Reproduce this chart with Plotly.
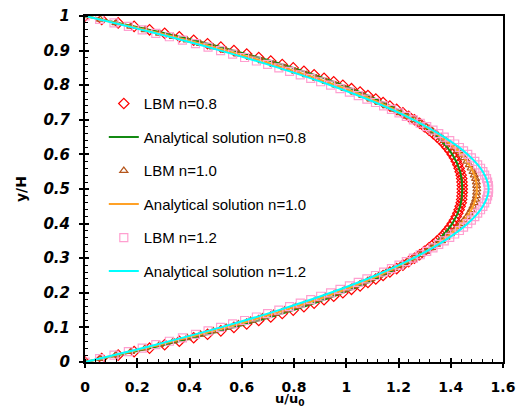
import plotly.graph_objects as go

# y/H positions of LBM nodes (0 .. 1, step 0.01)
y_lbm = [round(i * 0.01, 2) for i in range(101)]

u_lbm_08 = [0, 0.064, 0.127, 0.188, 0.247, 0.305, 0.361, 0.416, 0.469, 0.520, 0.570, 0.619, 0.665, 0.711, 0.755,
            0.797, 0.838, 0.877, 0.915, 0.952, 0.987, 1.020, 1.053, 1.083, 1.113, 1.141, 1.167, 1.193, 1.217, 1.239,
            1.261, 1.281, 1.299, 1.317, 1.333, 1.348, 1.362, 1.375, 1.386, 1.397, 1.406, 1.414, 1.421, 1.427, 1.432,
            1.436, 1.440, 1.442, 1.443, 1.444, 1.444,
            1.444, 1.443, 1.442, 1.440, 1.436, 1.432, 1.427, 1.421, 1.414, 1.406, 1.397, 1.386, 1.375, 1.362, 1.348,
            1.333, 1.317, 1.299, 1.281, 1.261, 1.239, 1.217, 1.193, 1.167, 1.141, 1.113, 1.083, 1.053, 1.020, 0.987,
            0.952, 0.915, 0.877, 0.838, 0.797, 0.755, 0.711, 0.665, 0.619, 0.570, 0.520, 0.469, 0.416, 0.361, 0.305,
            0.247, 0.188, 0.127, 0.064, 0]

u_lbm_10 = [0, 0.059, 0.118, 0.175, 0.230, 0.285, 0.338, 0.391, 0.442, 0.491, 0.540, 0.587, 0.634, 0.679, 0.722,
            0.765, 0.806, 0.847, 0.886, 0.923, 0.960, 0.995, 1.030, 1.063, 1.094, 1.125, 1.154, 1.183, 1.210, 1.235,
            1.260, 1.283, 1.306, 1.327, 1.346, 1.365, 1.382, 1.399, 1.414, 1.427, 1.440, 1.451, 1.462, 1.471, 1.478,
            1.485, 1.490, 1.495, 1.498, 1.499, 1.500,
            1.499, 1.498, 1.495, 1.490, 1.485, 1.478, 1.471, 1.462, 1.451, 1.440, 1.427, 1.414, 1.399, 1.382, 1.365,
            1.346, 1.327, 1.306, 1.283, 1.260, 1.235, 1.210, 1.183, 1.154, 1.125, 1.094, 1.063, 1.030, 0.995, 0.960,
            0.923, 0.886, 0.847, 0.806, 0.765, 0.722, 0.679, 0.634, 0.587, 0.540, 0.491, 0.442, 0.391, 0.338, 0.285,
            0.230, 0.175, 0.118, 0.059, 0]

u_lbm_12 = [0, 0.056, 0.111, 0.166, 0.219, 0.271, 0.323, 0.373, 0.423, 0.471, 0.519, 0.565, 0.611, 0.656, 0.699,
            0.742, 0.783, 0.824, 0.864, 0.902, 0.940, 0.976, 1.012, 1.046, 1.079, 1.112, 1.143, 1.173, 1.202, 1.230,
            1.257, 1.283, 1.308, 1.332, 1.354, 1.375, 1.396, 1.415, 1.433, 1.449, 1.465, 1.479, 1.492, 1.503, 1.514,
            1.523, 1.530, 1.537, 1.541, 1.544, 1.545,
            1.544, 1.541, 1.537, 1.530, 1.523, 1.514, 1.503, 1.492, 1.479, 1.465, 1.449, 1.433, 1.415, 1.396, 1.375,
            1.354, 1.332, 1.308, 1.283, 1.257, 1.230, 1.202, 1.173, 1.143, 1.112, 1.079, 1.046, 1.012, 0.976, 0.940,
            0.902, 0.864, 0.824, 0.783, 0.742, 0.699, 0.656, 0.611, 0.565, 0.519, 0.471, 0.423, 0.373, 0.323, 0.271,
            0.219, 0.166, 0.111, 0.056, 0]

# Analytical curves (y/H step 0.05)
y_an = [0, 0.05, 0.10, 0.15, 0.20, 0.25, 0.30, 0.35, 0.40, 0.45, 0.50,
        0.55, 0.60, 0.65, 0.70, 0.75, 0.80, 0.85, 0.90, 0.95, 1.0]
u_an_08 = [0, 0.305, 0.570, 0.797, 0.987, 1.141, 1.261, 1.348, 1.406, 1.436, 1.444,
           1.436, 1.406, 1.348, 1.261, 1.141, 0.987, 0.797, 0.570, 0.305, 0]
u_an_10 = [0, 0.285, 0.540, 0.765, 0.960, 1.125, 1.260, 1.365, 1.440, 1.485, 1.500,
           1.485, 1.440, 1.365, 1.260, 1.125, 0.960, 0.765, 0.540, 0.285, 0]
u_an_12 = [0, 0.271, 0.519, 0.742, 0.940, 1.112, 1.257, 1.375, 1.465, 1.523, 1.545,
           1.523, 1.465, 1.375, 1.257, 1.112, 0.940, 0.742, 0.519, 0.271, 0]

x_ticks = [0, 0.2, 0.4, 0.6, 0.8, 1, 1.2, 1.4, 1.6]
y_ticks = [0, 0.1, 0.2, 0.3, 0.4, 0.5, 0.6, 0.7, 0.8, 0.9, 1]

fig = go.Figure()

series = [
    ("LBM n=0.8", "markers", u_lbm_08, y_lbm, dict(symbol="diamond-open", size=8, color="#FF0000", line=dict(width=1.2))),
    ("Analytical solution n=0.8", "lines", u_an_08, y_an, dict(color="#138A13", width=2)),
    ("LBM n=1.0", "markers", u_lbm_10, y_lbm, dict(symbol="triangle-up-open", size=7, color="#B5561C", line=dict(width=1.2))),
    ("Analytical solution n=1.0", "lines", u_an_10, y_an, dict(color="#FFA126", width=2)),
    ("LBM n=1.2", "markers", u_lbm_12, y_lbm, dict(symbol="square-open", size=8, color="#FF9FD0", line=dict(width=1.2))),
    ("Analytical solution n=1.2", "lines", u_an_12, y_an, dict(color="#00FFFF", width=2)),
]
for i, (name, mode, xs, ys, sty) in enumerate(series):
    if mode == "markers":
        fig.add_trace(go.Scatter(x=xs, y=ys, mode="markers", name=name, marker=sty,
                                 legendgroup="g%d" % i))
    else:
        fig.add_trace(go.Scatter(x=xs, y=ys, mode="lines", name=name, line=dict(shape="spline", **sty),
                                 legendgroup="g%d" % i))

# helper trace for overlay axes (inner half of the crossing major ticks)
fig.add_trace(go.Scatter(x=[None], y=[None], xaxis="x2", yaxis="y2", showlegend=False, hoverinfo="skip"))

sans = "Liberation Sans, Arial, sans-serif"
wide = "DejaVu Sans, Verdana, sans-serif"

fig.update_layout(
    width=517, height=407,
    margin=dict(l=85, r=14, t=16, b=45),
    paper_bgcolor="white", plot_bgcolor="white",
    font=dict(family=sans, color="black"),
    showlegend=True,
    legend=dict(x=0.045, y=0.794, xanchor="left", yanchor="top",
                bgcolor="rgba(0,0,0,0)", font=dict(size=15, family=sans),
                traceorder="grouped", tracegroupgap=11, itemwidth=30),
    xaxis=dict(range=[0, 1.6], tickvals=x_ticks, ticktext=[str(v) for v in x_ticks],
               ticks="outside", ticklen=4, tickwidth=1.5, tickcolor="black",
               showline=True, linecolor="black", linewidth=2, mirror=True,
               showgrid=False, zeroline=False, automargin=False,
               tickfont=dict(size=14, weight="bold", family=wide),
               ticklabelstandoff=7,
               minor=dict(dtick=0.04, ticks="inside", ticklen=3, tickwidth=1, tickcolor="black", showgrid=False)),
    yaxis=dict(range=[0, 1], tickvals=y_ticks, ticktext=[str(v) for v in y_ticks],
               ticks="outside", ticklen=4, tickwidth=1.5, tickcolor="black",
               showline=True, linecolor="black", linewidth=2, mirror=True,
               showgrid=False, zeroline=False, automargin=False,
               tickfont=dict(size=15, weight="bold", style="italic", family=wide),
               ticklabelstandoff=6,
               minor=dict(dtick=0.02, ticks="inside", ticklen=3, tickwidth=1, tickcolor="black", showgrid=False)),
    xaxis2=dict(range=[0, 1.6], overlaying="x", anchor="y2", side="bottom", tickvals=x_ticks,
                ticks="inside", ticklen=4, tickwidth=1.5, tickcolor="black", automargin=False,
                showticklabels=False, showgrid=False, zeroline=False, showline=False),
    yaxis2=dict(range=[0, 1], overlaying="y", anchor="x2", side="left", tickvals=y_ticks,
                ticks="inside", ticklen=4, tickwidth=1.5, tickcolor="black", automargin=False,
                showticklabels=False, showgrid=False, zeroline=False, showline=False),
    annotations=[
        dict(text="u/u<sub>0</sub>", xref="paper", yref="paper", x=0.49, y=-0.137,
             xanchor="center", yanchor="bottom", showarrow=False, borderpad=0,
             font=dict(size=13, weight="bold", family=wide)),
        dict(text="y/H", xref="paper", yref="paper", x=-0.153, y=0.5, textangle=-90,
             xanchor="center", yanchor="middle", showarrow=False,
             font=dict(size=14, weight="bold", family=wide)),
    ],
)

fig.write_html("out.html")
